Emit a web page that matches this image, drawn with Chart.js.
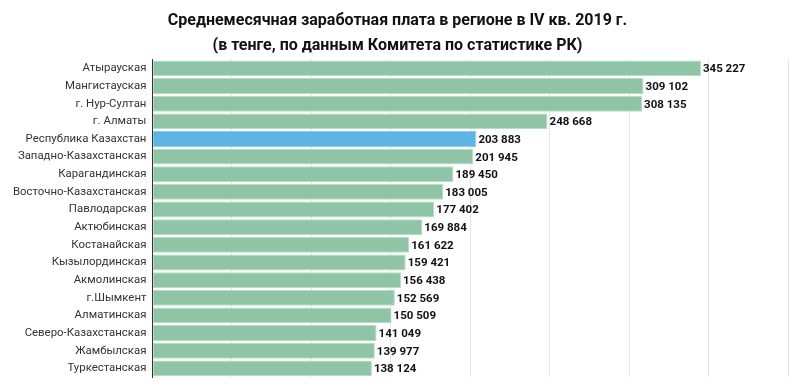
<!DOCTYPE html>
<html>
<head>
<meta charset="utf-8">
<script src="https://cdn.jsdelivr.net/npm/chart.js@4"></script>
<style>
  html, body { margin: 0; padding: 0; background: #fff; }
  #wrap { width: 800px; height: 390px; position: relative; }
</style>
</head>
<body>
<div id="wrap"><canvas id="chart"></canvas></div>
<script>
// data
const categories = [
  'Атырауская', 'Мангистауская', 'г. Нур-Султан', 'г. Алматы', 'Республика Казахстан',
  'Западно-Казахстанская', 'Карагандинская', 'Восточно-Казахстанская', 'Павлодарская',
  'Актюбинская', 'Костанайская', 'Кызылординская', 'Акмолинская', 'г.Шымкент',
  'Алматинская', 'Северо-Казахстанская', 'Жамбылская', 'Туркестанская'
];
const salaries = [
  345227, 309102, 308135, 248668, 203883, 201945, 189450, 183005, 177402,
  169884, 161622, 159421, 156438, 152569, 150509, 141049, 139977, 138124
];
const highlighted = 'Республика Казахстан';
const titleLines = [
  'Среднемесячная заработная плата в регионе в IV кв. 2019 г.',
  '(в тенге, по данным Комитета по статистике РК)'
];

const green = '#8fc4a6', blue = '#5eb4e2';

function fmt(v) {
  return String(v).replace(/\B(?=(\d{3})+(?!\d))/g, ' ');
}

// value labels at the end of each bar
const valueLabels = {
  id: 'valueLabels',
  afterDatasetsDraw(chart) {
    const ctx = chart.ctx;
    const meta = chart.getDatasetMeta(0);
    ctx.save();
    ctx.font = 'bold 11.5px Roboto';
    ctx.fillStyle = '#111';
    ctx.textAlign = 'left';
    ctx.textBaseline = 'middle';
    meta.data.forEach((bar, i) => {
      ctx.fillText(fmt(salaries[i]), bar.x + 2, bar.y + 1);
    });
    ctx.restore();
  }
};

new Chart(document.getElementById('chart'), {
  type: 'bar',
  data: {
    labels: categories,
    datasets: [{
      data: salaries,
      backgroundColor: categories.map(c => c === highlighted ? blue : green),
      borderColor: categories.map(c => c === highlighted ? '#8fcbec' : '#b9dcc7'),
      borderWidth: 1,
      borderSkipped: false,
      barPercentage: 0.9,
      categoryPercentage: 1
    }]
  },
  options: {
    indexAxis: 'y',
    responsive: true,
    maintainAspectRatio: false,
    animation: false,
    layout: { padding: { left: 7, right: 12, top: 0, bottom: 9 } },
    plugins: {
      legend: { display: false },
      tooltip: { enabled: false },
      title: {
        display: true,
        text: titleLines,
        color: '#111',
        font: { family: 'Roboto', size: 16, weight: 'bold', lineHeight: 1.55 },
        padding: { top: 9, bottom: 1 }
      }
    },
    scales: {
      x: {
        min: 0,
        max: 400000,
        ticks: { display: false, stepSize: 50000 },
        grid: { color: '#e4e4e4', drawTicks: false },
        border: { display: false }
      },
      y: {
        grid: { display: false, drawTicks: false },
        border: { color: '#333', width: 1 },
        ticks: {
          color: '#333',
          font: { family: 'Roboto', size: 11.4 },
          padding: 6
        }
      }
    }
  },
  plugins: [valueLabels]
});
</script>
</body>
</html>
